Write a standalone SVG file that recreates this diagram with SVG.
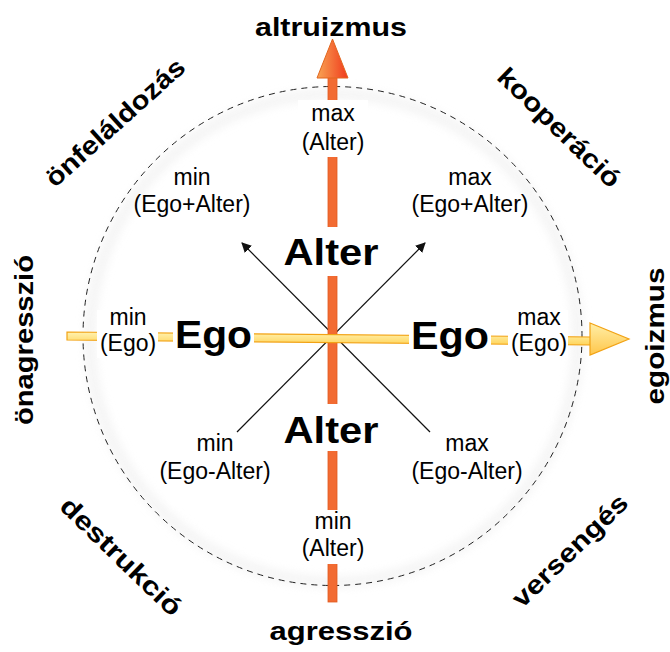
<svg xmlns="http://www.w3.org/2000/svg" width="670" height="652" viewBox="0 0 670 652">
<style>
.lbl{font-family:"Liberation Sans",Arial,sans-serif;font-size:23px;text-anchor:middle;fill:#000}
.big{font-family:"Liberation Sans",Arial,sans-serif;font-weight:bold;font-size:37px;text-anchor:middle;fill:#000}
.dir{font-family:"Liberation Sans",Arial,sans-serif;font-weight:bold;font-size:26px;text-anchor:middle;fill:#000}
.bg{fill:#fff}
.thin{stroke:#111;stroke-width:1.2;fill:none}
</style>
<defs>
<marker id="ah" viewBox="0 0 10 10" refX="9" refY="5" markerWidth="10" markerHeight="10" markerUnits="userSpaceOnUse" orient="auto">
<path d="M0,0 L10,5 L0,10 z" fill="#111"/>
</marker>
<linearGradient id="gHead" x1="0" y1="0" x2="1" y2="0">
<stop offset="0" stop-color="#F8A454"/>
<stop offset="1" stop-color="#F03A1C"/>
</linearGradient>
<linearGradient id="gBar" x1="0" y1="0" x2="0" y2="1">
<stop offset="0" stop-color="#FFF2B0"/>
<stop offset="1" stop-color="#FFD45A"/>
</linearGradient>
<linearGradient id="gYHead" x1="0" y1="0" x2="0" y2="1">
<stop offset="0" stop-color="#FFEFA8"/>
<stop offset="1" stop-color="#FFC64A"/>
</linearGradient>
<filter id="blur" x="-10%" y="-10%" width="120%" height="120%">
<feGaussianBlur stdDeviation="5"/>
</filter>
</defs>

<g id="circle">
<circle cx="334" cy="338" r="244" fill="none" stroke="#ececec" stroke-width="10" filter="url(#blur)" opacity="0.6"/>
<circle cx="332.5" cy="336" r="249.5" fill="none" stroke="#222" stroke-width="1" stroke-dasharray="6 5"/>
</g>

<g id="connectors">
<line class="thin" x1="430" y1="432" x2="242" y2="243" marker-end="url(#ah)"/>
<line class="thin" x1="237" y1="432" x2="425" y2="243" marker-end="url(#ah)"/>
<g id="vertical-axis">
<rect x="328" y="77" width="9" height="525" fill="#F26B32" stroke="#E05A1E" stroke-width="0.8"/>
<polygon points="332.5,39 348,78 317,78" fill="url(#gHead)" stroke="#E2661E" stroke-width="1"/>
</g>
<g id="horizontal-axis">
<polygon points="67,332 591,337 591,345 67,340" fill="url(#gBar)" stroke="#F2A214" stroke-width="1.2"/>
<polygon points="590,323 629,339 590,355" fill="url(#gYHead)" stroke="#F2A214" stroke-width="1.2"/>
</g>
</g>

<g id="label-backgrounds">
<rect class="bg" x="298" y="100" width="70" height="57"/>
<rect class="bg" x="280" y="227" width="104" height="49"/>
<rect class="bg" x="280" y="404" width="104" height="47"/>
<rect class="bg" x="298" y="510" width="70" height="54"/>
<rect class="bg" x="97" y="310" width="61" height="48"/>
<rect class="bg" x="173" y="315" width="81" height="45"/>
<rect class="bg" x="409" y="315" width="82" height="45"/>
<rect class="bg" x="508" y="310" width="60" height="48"/>
</g>

<g id="altruizmus"><text class="dir" x="331" y="36" textLength="152" lengthAdjust="spacingAndGlyphs">altruizmus</text></g>
<g id="agresszio"><text class="dir" x="341" y="640" textLength="143" lengthAdjust="spacingAndGlyphs">agresszió</text></g>
<g id="egoizmus"><text class="dir" transform="translate(664,336) rotate(-90)" textLength="137" lengthAdjust="spacingAndGlyphs">egoizmus</text></g>
<g id="onagresszio"><text class="dir" transform="translate(33,340) rotate(-90)" textLength="170" lengthAdjust="spacingAndGlyphs">önagresszió</text></g>
<g id="onfelaldozas"><text class="dir" transform="translate(121,129) rotate(-42)" textLength="178" lengthAdjust="spacingAndGlyphs">önfeláldozás</text></g>
<g id="kooperacio"><text class="dir" transform="translate(553,134) rotate(44)" textLength="160" lengthAdjust="spacingAndGlyphs">kooperáció</text></g>
<g id="destrukcio"><text class="dir" transform="translate(115,563) rotate(44)" textLength="158" lengthAdjust="spacingAndGlyphs">destrukció</text></g>
<g id="versenges"><text class="dir" transform="translate(576,557) rotate(-44)" textLength="150" lengthAdjust="spacingAndGlyphs">versengés</text></g>

<g id="max-alter"><text class="lbl" x="333" y="121">max</text><text class="lbl" x="333" y="150">(Alter)</text></g>
<g id="min-alter"><text class="lbl" x="333" y="529">min</text><text class="lbl" x="333" y="556">(Alter)</text></g>
<g id="min-ego-plus-alter"><text class="lbl" x="192" y="185">min</text><text class="lbl" x="192" y="212">(Ego+Alter)</text></g>
<g id="max-ego-plus-alter"><text class="lbl" x="470" y="185">max</text><text class="lbl" x="470" y="212">(Ego+Alter)</text></g>
<g id="min-ego"><text class="lbl" x="128" y="325">min</text><text class="lbl" x="128" y="351">(Ego)</text></g>
<g id="max-ego"><text class="lbl" x="539" y="325">max</text><text class="lbl" x="539" y="351">(Ego)</text></g>
<g id="min-ego-minus-alter"><text class="lbl" x="215" y="451">min</text><text class="lbl" x="215" y="479">(Ego-Alter)</text></g>
<g id="max-ego-minus-alter"><text class="lbl" x="467" y="451">max</text><text class="lbl" x="467" y="479">(Ego-Alter)</text></g>

<g id="alter-top"><text class="big" x="331" y="265" textLength="95" lengthAdjust="spacingAndGlyphs">Alter</text></g>
<g id="alter-bottom"><text class="big" x="331" y="443" textLength="95" lengthAdjust="spacingAndGlyphs">Alter</text></g>
<g id="ego-left"><text class="big" style="font-size:39px" x="213.5" y="348" textLength="77" lengthAdjust="spacingAndGlyphs">Ego</text></g>
<g id="ego-right"><text class="big" style="font-size:39px" x="450" y="349" textLength="78" lengthAdjust="spacingAndGlyphs">Ego</text></g>
</svg>
